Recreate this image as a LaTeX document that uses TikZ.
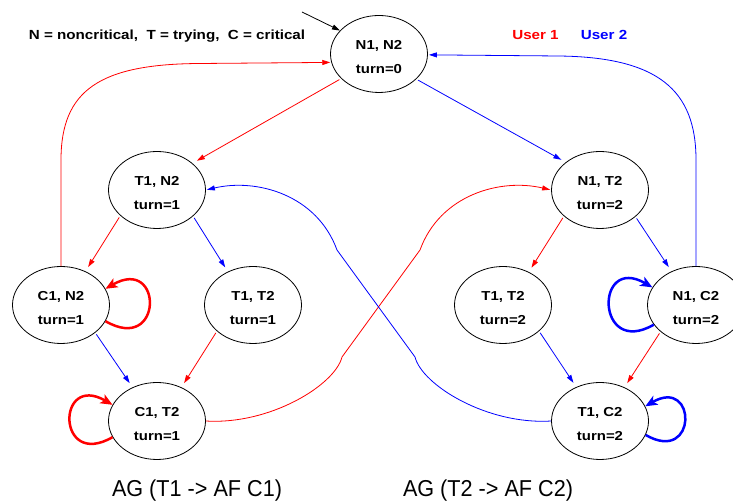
\documentclass[tikz,border=0pt]{standalone}
\usepackage{fontspec}
\setmainfont{Liberation Sans}
\newfontfamily\nodefnt{Liberation Sans}[FakeStretch=1.15]
\newfontfamily\labfnt{Liberation Sans}[FakeStretch=0.94]
\usetikzlibrary{shapes.geometric,arrows.meta}
\definecolor{ured}{RGB}{255,0,0}
\definecolor{ublue}{RGB}{0,0,255}
\tikzset{
  stnode/.style={ellipse, draw=black, line width=0.8pt, minimum width=97pt, minimum height=77pt,
    inner sep=0pt, align=center, font=\nodefnt\bfseries\fontsize{13}{24}\selectfont},
  thinarrow/.style={line width=0.8pt, -{Triangle[length=8pt,width=5pt]}},
  redtr/.style={thinarrow, draw=ured, shorten >=5pt, shorten <=2pt},
  bluetr/.style={thinarrow, draw=ublue, shorten >=5pt, shorten <=2pt},
  redcurve/.style={thinarrow, draw=ured, shorten >=1pt},
  bluecurve/.style={thinarrow, draw=ublue, shorten >=1pt},
  redloop/.style={line width=2.5pt, draw=ured, -{Stealth[length=12pt,width=10pt,inset=3pt]}},
  blueloop/.style={line width=2.5pt, draw=ublue, -{Stealth[length=12pt,width=10pt,inset=3pt]}},
  legendtxt/.style={anchor=base, font=\nodefnt\bfseries\fontsize{13.2}{16}\selectfont},
  formula/.style={anchor=base, font=\labfnt\fontsize{23}{28}\selectfont}
}
\begin{document}
\begin{tikzpicture}[x=1pt,y=1pt]
\useasboundingbox (0,0) rectangle (733,502);
\clip (0,0) rectangle (733,502);

% states
\node[stnode] (N1N2) at (379,448) {\rule{0pt}{15pt}N1, N2\\turn=0};
\node[stnode] (T1N2) at (157,312) {\rule{0pt}{15pt}T1, N2\\turn=1};
\node[stnode] (N1T2) at (600,312) {\rule{0pt}{15pt}N1, T2\\turn=2};
\node[stnode] (C1N2) at (61,197) {\rule{0pt}{15pt}C1, N2\\turn=1};
\node[stnode] (T1T2a) at (253,197) {\rule{0pt}{15pt}T1, T2\\turn=1};
\node[stnode] (T1T2b) at (503,197) {\rule{0pt}{15pt}T1, T2\\turn=2};
\node[stnode] (N1C2) at (696,197) {\rule{0pt}{15pt}N1, C2\\turn=2};
\node[stnode] (C1T2) at (157,81) {\rule{0pt}{15pt}C1, T2\\turn=1};
\node[stnode] (T1C2) at (600,81) {\rule{0pt}{15pt}T1, C2\\turn=2};

% texts
\node[legendtxt] (legend) at (167,462.5) {N = noncritical,\ \ T = trying,\ \ C = critical};
\node[legendtxt, text=ured] (user1) at (535.5,462.5) {User 1};
\node[legendtxt, text=ublue] (user2) at (604,462.5) {User 2};
\node[formula] (lab1) at (197,5.3) {AG (T1 -> AF C1)};
\node[formula] (lab2) at (488,5.3) {AG (T2 -> AF C2)};

% initial arrow
\coordinate (init) at (302,490);
\draw[thinarrow, draw=black] (init) -- (N1N2.149.5);

% straight transitions
\draw[redtr] (N1N2.213.7) -- (T1N2.37.3);
\draw[bluetr] (N1N2.326.3) -- (N1T2.141.7);
\draw[redtr] (T1N2.215.7) -- (C1N2.54.3);
\draw[bluetr] (T1N2.324.3) -- (T1T2a.127.6);
\draw[redtr] (N1T2.216.6) -- (T1T2b.52.4);
\draw[bluetr] (N1T2.323.4) -- (N1C2.126);
\draw[bluetr] (C1N2.321.7) -- (C1T2.126.9);
\draw[redtr] (T1T2a.216.6) -- (C1T2.54.3);
\draw[bluetr] (T1T2b.324) -- (T1C2.125.7);
\draw[redtr] (N1C2.217.6) -- (T1C2.54.3);

% long curves
\draw[redcurve] (C1N2.north) -- (61,342) .. controls (61,412) and (100,438) .. (200,438.5) -- (N1N2.190);
\draw[bluecurve] (N1C2.north) -- (696,342) .. controls (696,412) and (658,445) .. (558,446) -- (N1N2.359);
\draw[redcurve] (C1T2.east) .. controls (270,77) and (335,117) .. (342,145) -- (420,252)
  .. controls (440,307) and (500,324) .. (N1T2.west);
\draw[bluecurve] (T1C2.west) .. controls (487,77) and (422,117) .. (415,145) -- (337,252)
  .. controls (317,307) and (257,324) .. (T1N2.east);

% self loops
\draw[redloop] (C1N2.-20) .. controls +(-30:67) and +(30:67) .. (C1N2.20);
\draw[redloop] (C1T2.200) .. controls +(210:65) and +(150:65) .. (C1T2.160);
\draw[blueloop] (N1C2.205) .. controls +(210:67) and +(150:67) .. (N1C2.158);
\draw[blueloop] (T1C2.-17) .. controls +(-30:60) and +(30:60) .. (T1C2.18);
\end{tikzpicture}
\end{document}
